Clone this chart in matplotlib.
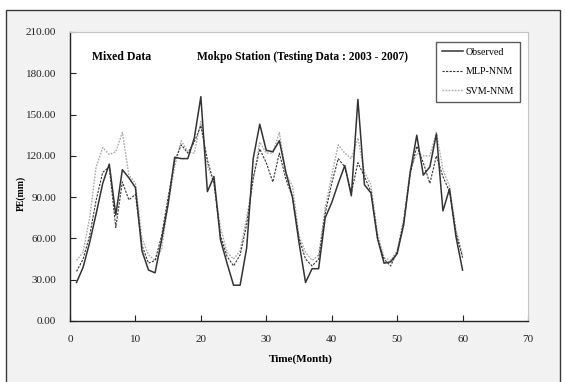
import numpy as np
import matplotlib
matplotlib.use("Agg")
import matplotlib.pyplot as plt
from matplotlib.patches import Rectangle

MONTHS = list(range(1, 61))
OBSERVED = [28, 39, 57, 78, 100, 114, 77, 110, 104, 97,
            51, 37, 35, 59, 85, 119, 118, 118, 133, 163,
            94, 105, 59, 42, 26, 26, 53, 118, 143, 124,
            123, 131, 108, 90, 57, 28, 38, 38, 75, 86,
            100, 113, 91, 161, 99, 93, 60, 42, 43, 49,
            70, 108, 135, 106, 112, 136, 80, 96, 61, 37]
MLP_NNM = [36, 45, 62, 88, 108, 112, 68, 101, 88, 92,
           55, 42, 44, 62, 90, 116, 128, 122, 130, 142,
           117, 100, 62, 47, 40, 48, 70, 104, 125, 115,
           101, 122, 103, 90, 60, 45, 40, 45, 78, 100,
           118, 112, 93, 115, 105, 94, 60, 45, 40, 50,
           72, 107, 127, 115, 100, 120, 105, 94, 64, 46]
SVM_NNM = [44, 50, 75, 112, 126, 121, 123, 137, 106, 100,
           60, 48, 44, 52, 85, 112, 131, 123, 122, 145,
           113, 100, 68, 50, 45, 51, 75, 102, 130, 122,
           122, 137, 107, 98, 62, 50, 44, 48, 82, 106,
           128, 122, 118, 133, 108, 99, 64, 46, 44, 51,
           74, 110, 122, 120, 120, 137, 110, 98, 66, 48]
Y_TICKS = [0, 30, 60, 90, 120, 150, 180, 210]
X_TICKS = [0, 10, 20, 30, 40, 50, 60, 70]

plt.rcParams['font.family'] = ['Liberation Serif', 'DejaVu Serif']

W, H = 565, 382
fig = plt.figure(figsize=(W / 100, H / 100), dpi=100)
fig.patch.set_facecolor('white')
# outer chart frame
fig.patches.append(Rectangle((6 / W, -0.05), 554 / W, 1.05 - 10 / H, transform=fig.transFigure,
                             facecolor='#f2f2f2', edgecolor='#3a3a3a', linewidth=1.0, zorder=-5))

ax = fig.add_axes([70 / W, 61 / H, 458 / W, 289 / H])
ax.set_facecolor('white')
ax.set_zorder(1)

ax.plot(MONTHS, SVM_NNM, color='#a8a8a8', linewidth=1.0, linestyle=(0, (1.2, 1.0)), label='SVM-NNM')
ax.plot(MONTHS, MLP_NNM, color='#333333', linewidth=0.8, linestyle=(0, (2.0, 1.2)), label='MLP-NNM')
ax.plot(MONTHS, OBSERVED, color='#333333', linewidth=1.1, linestyle='solid', label='Observed')

ax.set_xlim(0, 70)
ax.set_ylim(0, 210)
ax.set_xticks(X_TICKS)
ax.set_yticks(Y_TICKS)
ax.set_yticklabels(['%.2f' % v for v in Y_TICKS])
ax.tick_params(axis='both', direction='in', length=4, width=0.8, labelsize=8, colors='#222222')
ax.tick_params(axis='x', pad=10)
ax.tick_params(axis='y', pad=10)

for side in ['left', 'bottom']:
    ax.spines[side].set_color('#222222')
    ax.spines[side].set_linewidth(1.0)
for side in ['top', 'right']:
    ax.spines[side].set_color('#c4c4c4')
    ax.spines[side].set_linewidth(0.8)

ax.set_xlabel('Time(Month)', fontsize=8, fontweight='bold')
ax.xaxis.set_label_coords(231 / 458, -33 / 289)
ax.set_ylabel('PE(mm)', fontsize=7, fontweight='bold')
ax.yaxis.set_label_coords(-44 / 458, 128 / 289)

fig.text(92 / W, 1 - 57 / H, 'Mixed Data', fontsize=8.5, fontweight='bold', va='center', ha='left')
fig.text(197 / W, 1 - 57 / H, 'Mokpo Station (Testing Data : 2003 - 2007)', fontsize=8.3,
         fontweight='bold', va='center', ha='left')

handles, labels = ax.get_legend_handles_labels()
leg = ax.legend(handles[::-1], labels[::-1], loc='upper right', bbox_to_anchor=(520 / W, 1 - 41.7 / H),
                bbox_transform=fig.transFigure, borderaxespad=0, fontsize=7.2, frameon=True,
                fancybox=False, handlelength=2.1, handletextpad=0.3, labelspacing=1.05,
                borderpad=0.6)
leg.get_frame().set_edgecolor('#333333')
leg.get_frame().set_linewidth(1.0)

fig.savefig('out.png', dpi=100, facecolor=fig.get_facecolor())
